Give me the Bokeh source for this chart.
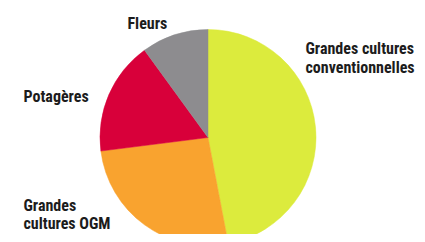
import numpy as np
from bokeh.plotting import figure
from bokeh.models import Range1d, ColumnDataSource
from bokeh.core.properties import value
from bokeh.embed import file_html
from bokeh.resources import INLINE

# Data (share of the pie, percent)
categories = ["Grandes cultures conventionnelles", "Grandes cultures OGM", "Potagères", "Fleurs"]
shares = [47, 26, 17, 10]
colors = ["#dceb3d", "#f9a32f", "#d8003a", "#8d8c8f"]

W, H = 417, 234
p = figure(width=W, height=H, output_backend="svg", toolbar_location=None,
           x_range=Range1d(0, W), y_range=Range1d(-H, 0),
           min_border=0, outline_line_color=None)
p.axis.visible = False
p.grid.visible = False
p.background_fill_color = "white"
p.border_fill_color = "white"

cx, cy, r = 207.5, -137, 108
vals = np.array(shares, dtype=float)
frac = vals / vals.sum()
cum = np.concatenate([[0], np.cumsum(frac)]) * 2 * np.pi
start = np.pi / 2 - cum[1:]
end = np.pi / 2 - cum[:-1]
src = ColumnDataSource(dict(start=start, end=end, color=colors, cat=categories))
p.wedge(x=cx, y=cy, radius=r, start_angle="start", end_angle="end",
        fill_color="color", line_color="color", line_width=0.5, source=src)

# Labels (pixel positions: x left, baseline y)
label_lines = ["Grandes cultures", "conventionnelles", "Potagères", "Grandes", "cultures OGM", "Fleurs"]
label_x = [305, 305, 23, 23, 23, 127]
label_y = [47.5, 67, 95.5, 205, 223, 22.5]
p.text(x=label_x, y=[-y for y in label_y], text=label_lines,
       text_font=value("Roboto Condensed"), text_font_style="bold",
       text_font_size="16px", text_color="#1c1c1c",
       text_align="left", text_baseline="alphabetic")

open("out.html", "w").write(file_html(p, INLINE))
